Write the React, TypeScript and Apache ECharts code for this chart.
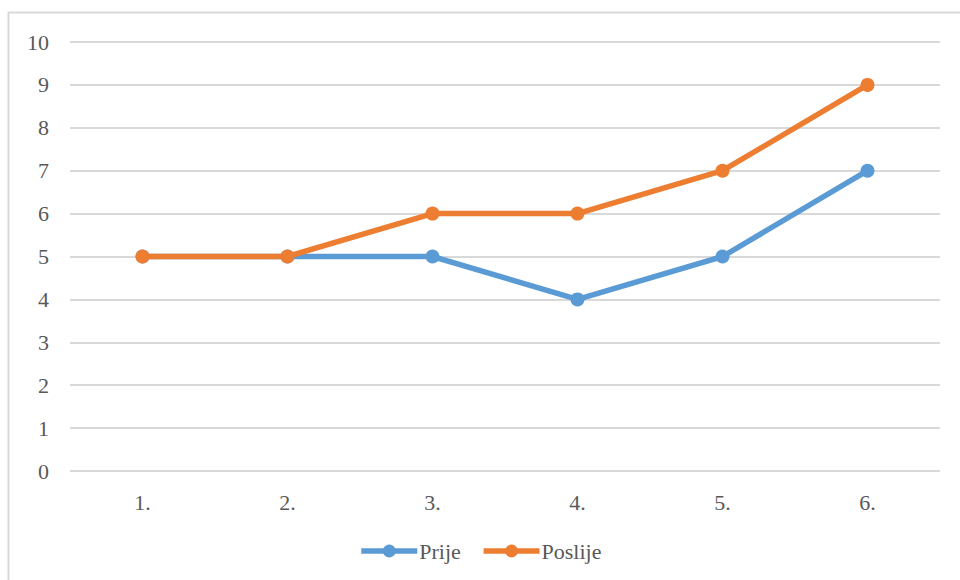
import React, { useEffect, useRef } from "react";
import * as echarts from "echarts";

const categories = ["1.", "2.", "3.", "4.", "5.", "6."];
const prije = [5, 5, 5, 4, 5, 7];
const poslije = [5, 5, 6, 6, 7, 9];
const seriesNames = ["Prije", "Poslije"];

const FONT = "Liberation Serif";
const TEXT_COLOR = "#595959";

export default function App() {
  const ref = useRef<HTMLDivElement>(null);
  useEffect(() => {
    if (!ref.current) return;
    const chart = echarts.init(ref.current, undefined, { renderer: "svg" });
    chart.setOption({
      animation: false,
      backgroundColor: "#ffffff",
      textStyle: { fontFamily: FONT },
      graphic: [
        {
          type: "rect",
          shape: { x: 8.5, y: 12.5, width: 1000, height: 1000 },
          style: { fill: "none", stroke: "#d9d9d9", lineWidth: 2 },
          silent: true,
        },
      ],
      grid: { left: 70, right: 20, top: 42, bottom: 109 },
      legend: {
        top: 535,
        left: "center",
        itemWidth: 56,
        itemHeight: 16,
        itemGap: 20,
        lineStyle: { width: 5.5 },
        textStyle: { fontFamily: FONT, fontSize: 22, color: TEXT_COLOR, padding: [0, 0, 0, -3] },
        data: seriesNames,
      },
      xAxis: {
        type: "category",
        data: categories,
        boundaryGap: true,
        axisLine: { show: false },
        axisTick: { show: false },
        axisLabel: { fontFamily: FONT, fontSize: 22, color: TEXT_COLOR, margin: 20 },
      },
      yAxis: {
        type: "value",
        min: 0,
        max: 10,
        interval: 1,
        axisLine: { show: false },
        axisTick: { show: false },
        axisLabel: { fontFamily: FONT, fontSize: 22, color: TEXT_COLOR, margin: 21 },
        splitLine: { lineStyle: { color: "#d9d9d9", width: 2 } },
      },
      series: [
        {
          name: seriesNames[0],
          type: "line",
          data: prije,
          symbol: "circle",
          symbolSize: 14,
          color: "#5B9BD5",
          lineStyle: { width: 5.5, color: "#5B9BD5" },
          itemStyle: { color: "#5B9BD5" },
          z: 2,
        },
        {
          name: seriesNames[1],
          type: "line",
          data: poslije,
          symbol: "circle",
          symbolSize: 14,
          color: "#ED7D31",
          lineStyle: { width: 5.5, color: "#ED7D31" },
          itemStyle: { color: "#ED7D31" },
          z: 3,
        },
      ],
    });
    return () => chart.dispose();
  }, []);
  return (
    <div
      ref={ref}
      style={{ position: "fixed", left: 0, top: 0, width: 960, height: 580 }}
    />
  );
}
